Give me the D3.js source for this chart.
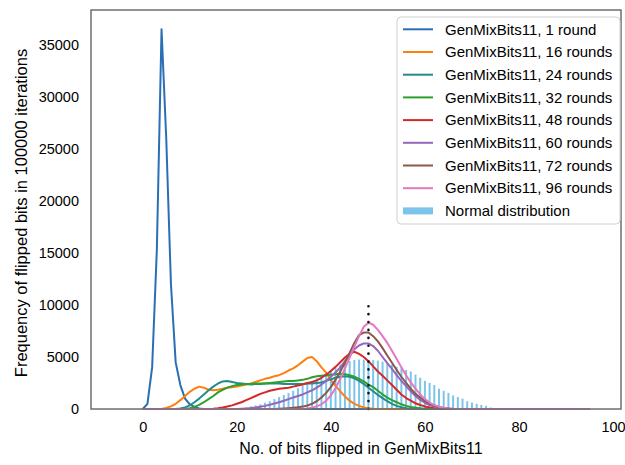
<!DOCTYPE html>
<html>
<head>
<meta charset="utf-8">
<script src="https://cdn.jsdelivr.net/npm/d3@7"></script>
<style>
  body { margin: 0; background: #fff; }
  svg { display: block; font-family: "Liberation Sans", Arial, sans-serif; }
</style>
</head>
<body>
<script>
// series: [bits flipped, frequency]
const round1 = [[0,0],[1,500],[2,4000],[3,15300],[4,36500],[5,26000],[6,12000],[7,4500],[8,2300],[9,1000],[10,450],[11,200],[12,60],[13,0],[95,0]];
const round16 = [[0,0],[4,0],[5,100],[6,250],[7,500],[8,850],[9,1250],[10,1650],[11,1950],[12,2150],[13,2050],[14,1850],[15,1800],[16,1850],[17,1950],[18,2050],[19,2100],[20,2150],[21,2250],[22,2350],[23,2450],[24,2600],[25,2750],[26,2900],[27,3000],[28,3150],[29,3250],[30,3450],[31,3700],[32,3900],[33,4200],[34,4550],[35,4900],[36,5000],[37,4600],[38,4000],[39,3500],[40,2800],[41,2250],[42,1700],[43,1200],[44,800],[45,500],[46,300],[47,150],[48,80],[49,30],[50,0],[95,0]];
const round24 = [[0,0],[7,0],[8,50],[9,150],[10,350],[11,650],[12,1000],[13,1400],[14,1800],[15,2150],[16,2450],[17,2650],[18,2700],[19,2600],[20,2500],[21,2450],[22,2400],[23,2350],[24,2400],[25,2400],[26,2450],[27,2450],[28,2450],[29,2450],[30,2400],[31,2400],[32,2400],[33,2400],[34,2400],[35,2450],[36,2450],[37,2500],[38,2550],[39,2700],[40,2850],[41,3000],[42,3100],[43,3150],[44,3100],[45,2950],[46,2700],[47,2400],[48,2050],[49,1700],[50,1350],[51,1050],[52,750],[53,500],[54,300],[55,170],[56,80],[57,30],[58,0],[95,0]];
const round32 = [[0,0],[9,0],[10,80],[11,200],[12,400],[13,650],[14,950],[15,1250],[16,1600],[17,1850],[18,2050],[19,2200],[20,2300],[21,2350],[22,2400],[23,2400],[24,2450],[25,2450],[26,2450],[27,2500],[28,2550],[29,2600],[30,2650],[31,2700],[32,2700],[33,2750],[34,2800],[35,2900],[36,3050],[37,3150],[38,3200],[39,3250],[40,3300],[41,3350],[42,3400],[43,3350],[44,3250],[45,3100],[46,2900],[47,2650],[48,2350],[49,2100],[50,1750],[51,1400],[52,1100],[53,850],[54,650],[55,450],[56,300],[57,200],[58,130],[59,70],[60,30],[61,0],[95,0]];
const round48 = [[0,0],[14,0],[15,30],[16,80],[17,150],[18,250],[19,350],[20,500],[21,650],[22,850],[23,1050],[24,1250],[25,1450],[26,1600],[27,1750],[28,1850],[29,1950],[30,2000],[31,2050],[32,2150],[33,2250],[34,2350],[35,2500],[36,2600],[37,2750],[38,3000],[39,3300],[40,3650],[41,4050],[42,4500],[43,4950],[44,5300],[45,5500],[46,5300],[47,5000],[48,4600],[49,4100],[50,3600],[51,3200],[52,2750],[53,2300],[54,1850],[55,1400],[56,1050],[57,800],[58,550],[59,380],[60,250],[61,150],[62,80],[63,30],[64,0],[95,0]];
const round60 = [[0,0],[20,0],[21,30],[22,60],[23,100],[24,150],[25,220],[26,300],[27,400],[28,520],[29,650],[30,800],[31,950],[32,1100],[33,1250],[34,1400],[35,1600],[36,1800],[37,2050],[38,2350],[39,2700],[40,3100],[41,3500],[42,4000],[43,4600],[44,5200],[45,5750],[46,6100],[47,6300],[48,6300],[49,6050],[50,5600],[51,5000],[52,4400],[53,3850],[54,3250],[55,2700],[56,2200],[57,1700],[58,1250],[59,870],[60,600],[61,380],[62,230],[63,120],[64,60],[65,20],[66,0],[95,0]];
const round72 = [[0,0],[28,0],[29,20],[30,40],[31,70],[32,110],[33,160],[34,230],[35,330],[36,500],[37,750],[38,1100],[39,1550],[40,2100],[41,2800],[42,3600],[43,4450],[44,5400],[45,6350],[46,7100],[47,7350],[48,7350],[49,7000],[50,6500],[51,5850],[52,5150],[53,4450],[54,3750],[55,3100],[56,2500],[57,1950],[58,1450],[59,1100],[60,780],[61,520],[62,320],[63,180],[64,90],[65,40],[66,0],[95,0]];
const round96 = [[0,0],[33,0],[34,20],[35,60],[36,130],[37,250],[38,450],[39,800],[40,1300],[41,2000],[42,2900],[43,3900],[44,4950],[45,6000],[46,7000],[47,7900],[48,8300],[49,8100],[50,7600],[51,7000],[52,6350],[53,5600],[54,4800],[55,4000],[56,3250],[57,2550],[58,1950],[59,1400],[60,950],[61,620],[62,380],[63,220],[64,120],[65,60],[66,20],[67,0],[95,0]];

// normal distribution bars, one per bit count from 22 to 74
const normalStart = 22;
const normalHeights = [150,250,350,450,600,750,950,1150,1350,1550,1750,2000,2250,2500,2700,2950,3200,3500,3750,4000,4250,4450,4600,4700,4750,4750,4700,4700,4650,4550,4400,4250,4050,3900,3750,3600,3300,3000,2700,2500,2300,1950,1750,1550,1300,1150,1000,750,620,500,400,300,150];

const meanLine = [48, 10000];

const labels = ["GenMixBits11, 1 round","GenMixBits11, 16 rounds","GenMixBits11, 24 rounds","GenMixBits11, 32 rounds","GenMixBits11, 48 rounds","GenMixBits11, 60 rounds","GenMixBits11, 72 rounds","GenMixBits11, 96 rounds"];
const colors = ["#2a6fb5","#ff7f0e","#238b8b","#2ca02c","#d62728","#9467bd","#8c564b","#e377c2"];
const xTicks = [0, 20, 40, 60, 80, 100];
const yTicks = [0, 5000, 10000, 15000, 20000, 25000, 30000, 35000];

const series = [round1, round16, round24, round32, round48, round60, round72, round96];

const width = 625, height = 465;
const margin = {left: 91, right: 4, top: 10, bottom: 56};

const x = d3.scaleLinear().domain([-11, 101.7]).range([margin.left, width - margin.right]);
const y = d3.scaleLinear().domain([0, 38350]).range([height - margin.bottom, margin.top]);

const svg = d3.select("body").append("svg")
    .attr("width", width)
    .attr("height", height);

// bars
const normal = normalHeights.map((h, i) => ({x: normalStart + i, y: h}));
svg.append("g")
    .selectAll("rect")
    .data(normal)
    .join("rect")
        .attr("fill", "#7cc4ea")
        .attr("x", d => x(d.x - 0.21))
        .attr("width", x(0.42) - x(0))
        .attr("y", d => y(d.y))
        .attr("height", d => y(0) - y(d.y));

const line = d3.line()
    .x(d => x(d[0]))
    .y(d => y(d[1]));

svg.append("g")
    .selectAll("path")
    .data(series)
    .join("path")
        .attr("fill", "none")
        .attr("stroke", (_, i) => colors[i])
        .attr("stroke-width", 2)
        .attr("stroke-linejoin", "round")
        .attr("d", line);

svg.append("line")
    .attr("x1", x(meanLine[0]))
    .attr("x2", x(meanLine[0]))
    .attr("y1", y(0))
    .attr("y2", y(meanLine[1]))
    .attr("stroke", "#111")
    .attr("stroke-width", 2.6)
    .attr("stroke-linecap", "round")
    .attr("stroke-dasharray", "0.1 7.8");

// frame
svg.append("rect")
    .attr("x", margin.left)
    .attr("y", margin.top)
    .attr("width", width - margin.left - margin.right)
    .attr("height", height - margin.top - margin.bottom)
    .attr("fill", "none")
    .attr("stroke", "#6e6e6e")
    .attr("stroke-width", 1.5);

const xAxis = svg.append("g")
    .attr("transform", `translate(0, ${y(0)})`)
    .call(d3.axisBottom(x).tickValues(xTicks).tickSize(0).tickPadding(12.7));
xAxis.select(".domain").remove();
xAxis.selectAll("text").attr("font-size", 14.5).attr("fill", "#000")
    .attr("font-family", "Liberation Sans, Arial, sans-serif");

const yAxis = svg.append("g")
    .attr("transform", `translate(${margin.left}, 0)`)
    .call(d3.axisLeft(y).tickValues(yTicks).tickSize(0).tickPadding(12).tickFormat(d3.format("d")));
yAxis.select(".domain").remove();
yAxis.selectAll("text").attr("font-size", 14.5).attr("fill", "#000")
    .attr("font-family", "Liberation Sans, Arial, sans-serif");

svg.append("text")
    .attr("x", 361)
    .attr("y", 454)
    .attr("text-anchor", "middle")
    .attr("font-size", 16)
    .attr("fill", "#000")
    .text("No. of bits flipped in GenMixBits11");

svg.append("text")
    .attr("transform", `translate(27, 213) rotate(-90)`)
    .attr("text-anchor", "middle")
    .attr("font-size", 16.5)
    .attr("fill", "#000")
    .text("Frequency of flipped bits in 100000 iterations");

// legend
const legend = svg.append("g").attr("transform", "translate(397, 17)");
legend.append("rect")
    .attr("width", 223)
    .attr("height", 207)
    .attr("rx", 4)
    .attr("fill", "#fff")
    .attr("fill-opacity", 0.85)
    .attr("stroke", "#d0d0d0");

const rowY = i => 12.3 + i * 22.7;

legend.selectAll(".handle")
    .data(labels)
    .join("line")
        .attr("class", "handle")
        .attr("x1", 6)
        .attr("x2", 36)
        .attr("y1", (_, i) => rowY(i))
        .attr("y2", (_, i) => rowY(i))
        .attr("stroke", (_, i) => colors[i])
        .attr("stroke-width", 2);

legend.append("rect")
    .attr("x", 6)
    .attr("y", rowY(8) - 3.5)
    .attr("width", 30)
    .attr("height", 7)
    .attr("fill", "#7cc4ea");

legend.selectAll(".label")
    .data(labels.concat(["Normal distribution"]))
    .join("text")
        .attr("class", "label")
        .attr("x", 48)
        .attr("y", (_, i) => rowY(i))
        .attr("dy", "0.35em")
        .attr("font-size", 15)
        .attr("fill", "#000")
        .text(d => d);
</script>
</body>
</html>
